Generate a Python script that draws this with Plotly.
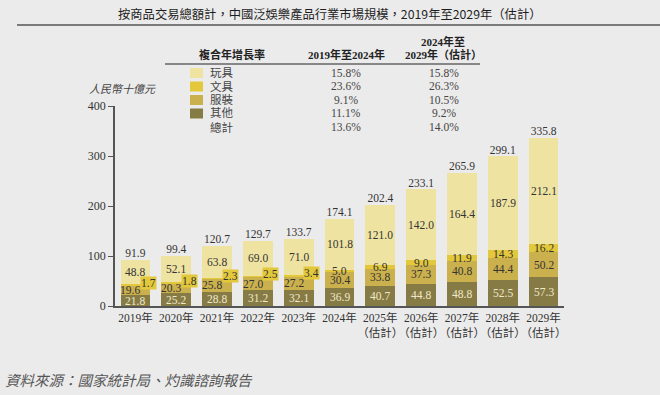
import plotly.graph_objects as go

# ---------------- data ----------------
years = ["2019年", "2020年", "2021年", "2022年", "2023年", "2024年",
         "2025年E", "2026年E", "2027年E", "2028年E", "2029年E"]
tick_labels = ["2019年", "2020年", "2021年", "2022年", "2023年", "2024年",
               "2025年<br>（估計）", "2026年<br>（估計）", "2027年<br>（估計）",
               "2028年<br>（估計）", "2029年<br>（估計）"]
other = [21.8, 25.2, 28.8, 31.2, 32.1, 36.9, 40.7, 44.8, 48.8, 52.5, 57.3]
apparel = [19.6, 20.3, 25.8, 27.0, 27.2, 30.4, 33.8, 37.3, 40.8, 44.4, 50.2]
stationery = [1.7, 1.8, 2.3, 2.5, 3.4, 5.0, 6.9, 9.0, 11.9, 14.3, 16.2]
toys = [48.8, 52.1, 63.8, 69.0, 71.0, 101.8, 121.0, 142.0, 164.4, 187.9, 212.1]
totals = [91.9, 99.4, 120.7, 129.7, 133.7, 174.1, 202.4, 233.1, 265.9, 299.1, 335.8]

series_names = ["玩具", "文具", "服裝", "其他", "總計"]
cagr_19_24 = ["15.8%", "23.6%", "9.1%", "11.1%", "13.6%"]
cagr_24_29 = ["15.8%", "26.3%", "10.5%", "9.2%", "14.0%"]

# ---------------- style ----------------
C_TOY = "#efe3a2"
C_STA = "#e3c83c"
C_APP = "#cbb04e"
C_OTH = "#877b45"
BG = "#ebebeb"
SERIF = "Liberation Serif, Noto Sans CJK TC, serif"
SANS = "Noto Sans CJK TC, sans-serif"
TXT = "#333333"

W, H = 660, 395
PLOT_L, PLOT_R, PLOT_T, PLOT_B = 115, 564, 106, 306


def px(x):
    return x / W


def py(y):
    return (H - y) / H


fig = go.Figure()

lab_font = dict(family=SERIF, size=11.5, color=TXT)
oth_font = dict(family=SERIF, size=11.5, color="#efe9cc")

for vals, name, col in [(other, "其他", C_OTH), (apparel, "服裝", C_APP),
                        (stationery, "文具", C_STA), (toys, "玩具", C_TOY)]:
    fig.add_trace(go.Bar(x=years, y=vals, name=name,
                         marker=dict(color=col, line=dict(width=0)), hoverinfo="skip"))

fig.add_trace(go.Scatter(
    x=years, y=totals, mode="text", text=[f"{v:.1f}" for v in totals],
    textposition="top center", textfont=lab_font, hoverinfo="skip"))

# decorative rules on a full-figure overlay subplot (pixel coordinates)
for x0, x1, yy, col, wd in [(17, 660, 25, "#555555", 1.6), (165, 480, 64, "#666666", 1.3)]:
    fig.add_trace(go.Scatter(x=[x0, x1], y=[yy, yy], xaxis="x2", yaxis="y2", mode="lines",
                             line=dict(color=col, width=wd), hoverinfo="skip"))

annotations = []
for i, yr in enumerate(years):
    b0 = 0.0
    annotations.append(dict(x=yr, y=b0 + other[i] / 2, xref="x", yref="y",
                            text=f"{other[i]:.1f}", showarrow=False, font=oth_font))
    b0 += other[i]
    annotations.append(dict(x=yr, y=b0 + apparel[i] / 2, xref="x", yref="y",
                            text=f"{apparel[i]:.1f}", showarrow=False, font=lab_font,
                            xshift=-5 if i < 5 else 0))
    b0 += apparel[i]
    if i < 5:
        annotations.append(dict(x=yr, y=b0 + stationery[i] + 3, xref="x", yref="y",
                                text=f"{stationery[i]:.1f}", showarrow=False, xshift=13,
                                bgcolor=C_STA, borderpad=0, font=lab_font))
    else:
        annotations.append(dict(x=yr, y=b0 + stationery[i] / 2, xref="x", yref="y",
                                text=f"{stationery[i]:.1f}", showarrow=False, font=lab_font))
    b0 += stationery[i]
    annotations.append(dict(x=yr, y=b0 + toys[i] / 2, xref="x", yref="y",
                            text=f"{toys[i]:.1f}", showarrow=False, font=lab_font))

# title
annotations.append(dict(x=px(330), y=py(14), xref="paper", yref="paper",
                        text="按商品交易總額計，中國泛娛樂產品行業市場規模，2019年至2029年（估計）",
                        showarrow=False, font=dict(family=SANS, size=12.3, color="#1e1e1e"),
                        xanchor="center", yanchor="middle"))
# unit label
annotations.append(dict(x=px(122), y=py(89), xref="paper", yref="paper", text="人民幣十億元",
                        showarrow=False, font=dict(family=SERIF, size=11, color="#444", style="italic"),
                        xanchor="center", yanchor="middle"))
# source
annotations.append(dict(x=px(3), y=py(381), xref="paper", yref="paper",
                        text="資料來源：國家統計局、灼識諮詢報告",
                        showarrow=False, font=dict(family=SERIF, size=14.5, color="#555", style="italic"),
                        xanchor="left", yanchor="middle"))
# table headers
hdr_font = dict(family=SERIF, size=11, color="#222")
annotations.append(dict(x=px(232), y=py(55), xref="paper", yref="paper", text="<b>複合年增長率</b>",
                        showarrow=False, font=hdr_font, xanchor="center", yanchor="middle"))
annotations.append(dict(x=px(346), y=py(55), xref="paper", yref="paper", text="<b>2019年至2024年</b>",
                        showarrow=False, font=hdr_font, xanchor="center", yanchor="middle"))
annotations.append(dict(x=px(443), y=py(41), xref="paper", yref="paper", text="<b>2024年至</b>",
                        showarrow=False, font=hdr_font, xanchor="center", yanchor="middle"))
annotations.append(dict(x=px(443), y=py(55), xref="paper", yref="paper", text="<b>2029年（估計）</b>",
                        showarrow=False, font=hdr_font, xanchor="center", yanchor="middle"))

row_y = [73, 86.5, 100, 113.5, 127]
swatch_cols = [C_TOY, C_STA, C_APP, C_OTH, None]
row_font = dict(family=SERIF, size=11.5, color="#444")
shapes = []
for name, a, b, yy, col in zip(series_names, cagr_19_24, cagr_24_29, row_y, swatch_cols):
    annotations.append(dict(x=px(208), y=py(yy), xref="paper", yref="paper", text=name,
                            showarrow=False, font=row_font, xanchor="left", yanchor="middle"))
    annotations.append(dict(x=px(346), y=py(yy), xref="paper", yref="paper", text=a,
                            showarrow=False, font=row_font, xanchor="center", yanchor="middle"))
    annotations.append(dict(x=px(444), y=py(yy), xref="paper", yref="paper", text=b,
                            showarrow=False, font=row_font, xanchor="center", yanchor="middle"))
    if col:
        shapes.append(dict(type="rect", xref="paper", yref="paper",
                           x0=px(190), x1=px(203), y0=py(yy + 5), y1=py(yy - 5),
                           fillcolor=col, line=dict(width=0)))

fig.update_layout(
    width=W, height=H,
    margin=dict(l=0, r=0, t=0, b=0, pad=0),
    barmode="stack", bargap=0.27,
    paper_bgcolor=BG, plot_bgcolor="rgba(0,0,0,0)",
    showlegend=False,
    annotations=annotations, shapes=shapes,
    xaxis=dict(type="category", categoryorder="array", categoryarray=years,
               domain=[px(PLOT_L), px(PLOT_R)], anchor="y",
               tickvals=years, ticktext=tick_labels, tickangle=0, automargin=False,
               showline=True, linecolor="#555", linewidth=1.5, ticks="",
               showgrid=False, zeroline=False, range=[-0.5, 10.5],
               tickfont=dict(family=SERIF, size=11.5, color=TXT)),
    yaxis=dict(range=[0, 400], tickvals=[0, 100, 200, 300, 400], automargin=False,
               domain=[py(PLOT_B), py(PLOT_T)], anchor="x",
               showline=True, linecolor="#555", linewidth=1.5,
               ticks="outside", ticklen=5, tickcolor="#555", tickwidth=1.2,
               showgrid=False, zeroline=False,
               tickfont=dict(family=SERIF, size=12, color=TXT)),
    xaxis2=dict(domain=[0, 1], range=[0, W], anchor="y2", visible=False,
                fixedrange=True, automargin=False),
    yaxis2=dict(domain=[0, 1], range=[H, 0], anchor="x2", visible=False,
                fixedrange=True, automargin=False),
)

fig.write_html("out.html", config={"displayModeBar": False},
               post_script="document.body.style.margin='0';document.body.style.background='" + BG + "';")
